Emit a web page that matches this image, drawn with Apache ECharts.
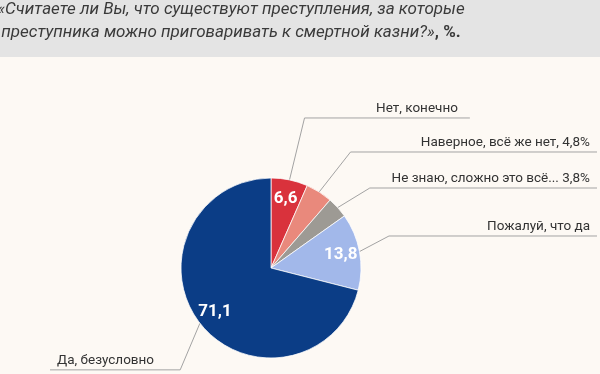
<!DOCTYPE html>
<html><head><meta charset="utf-8">
<script src="https://cdn.jsdelivr.net/npm/echarts@6/dist/echarts.min.js"></script>
<style>html,body{margin:0;padding:0;background:#fdf9f4}#c{width:600px;height:374px}</style>
</head><body><div id="c"></div>
<script>
// ---- data ----
const categories = ['Нет, конечно', 'Наверное, всё же нет', 'Не знаю, сложно это всё...', 'Пожалуй, что да', 'Да, безусловно'];
const values = [6.6, 4.8, 3.8, 13.8, 71.1];
const labelTemplates = ['Нет, конечно', 'Наверное, всё же нет, {v}%', 'Не знаю, сложно это всё... {v}%', 'Пожалуй, что да', 'Да, безусловно'];
const valueInside = [true, false, false, true, true];
const titleLines = ['«Считаете ли Вы, что существуют преступления, за которые', 'преступника можно приговаривать к смертной казни?»'];
const titleUnit = ', %.';

// ---- styles ----
const colors = ['#d9323c', '#e9897c', '#9d9a94', '#a2b8ea', '#0b3d86'];
const lineLen = [73, 58.6, 43.3, 30, 25];
const lineLen2 = [66.5, 0, 0, 0, 0];
const alignMode = ['none', 'edge', 'edge', 'edge', 'edge'];
const edgeDist = [3, 3, 3, 3, 50];
const labelPad = [[0, 12, 3, 0], [0, 7, 3, 0], [0, 7, 3, 0], [0, 7, 3, 0], [0, 0, 3, 7]];
const labelShift = [0, 0, 0, -19.6, 21.8];
const CENTER = [271, 268];
const R = 90;

const fmt = v => v.toFixed(1).replace('.', ',');

const outerData = categories.map((name, i) => ({
  name: name,
  value: values[i],
  itemStyle: { color: colors[i] },
  label: {
    formatter: labelTemplates[i].replace('{v}', fmt(values[i])),
    alignTo: alignMode[i],
    edgeDistance: edgeDist[i],
    padding: labelPad[i]
  },
  labelLine: { length: lineLen[i], length2: lineLen2[i] }
}));

const innerData = categories.map((name, i) => ({
  name: name,
  value: values[i],
  label: { show: valueInside[i], formatter: fmt(values[i]) }
}));

const chart = echarts.init(document.getElementById('c'), null, { renderer: 'canvas' });
chart.setOption({
  backgroundColor: '#fdf9f4',
  animation: false,
  graphic: [
    { type: 'rect', z: 0, shape: { x: 0, y: 0, width: 600, height: 57 }, style: { fill: '#e4e4e4' } },
    {
      type: 'text', z: 1, x: 231, y: -2,
      style: {
        text: titleLines[0] + '\n' + titleLines[1] + '{b|' + titleUnit + '}',
        align: 'center', verticalAlign: 'top',
        fill: '#3a3a3a', fontSize: 17, lineHeight: 23,
        fontStyle: 'italic', fontFamily: 'Roboto',
        rich: { b: { fontStyle: 'normal', fontWeight: 'bold', fontSize: 17, lineHeight: 23, fill: '#3a3a3a', fontFamily: 'Roboto' } }
      }
    }
  ],
  series: [
    {
      type: 'pie',
      center: CENTER,
      radius: [0, R],
      startAngle: 90,
      clockwise: true,
      silent: true,
      avoidLabelOverlap: true,
      data: outerData,
      itemStyle: { borderColor: 'rgba(255,255,255,0.75)', borderWidth: 1 },
      label: {
        show: true, position: 'outside',
        color: '#333333', fontSize: 13.5, fontFamily: 'Roboto', lineHeight: 16,
        distanceToLabelLine: 5
      },
      labelLine: { show: true, lineStyle: { color: '#a3a3a3', width: 1 } },
      labelLayout: function (p) {
        const pts = p.labelLinePoints;
        if (!pts) return {};
        const i = p.dataIndex;
        const shift = labelShift[i] || 0;
        const r = p.labelRect;
        const bottom = r.y + r.height + shift;
        const isLeft = pts[2][0] < pts[0][0];
        const endX = isLeft ? r.x : r.x + r.width;
        pts[1][1] = bottom;
        pts[2] = [endX, bottom];
        const out = { labelLinePoints: pts };
        if (shift) out.y = r.y + r.height / 2 + shift;
        return out;
      }
    },
    {
      type: 'pie',
      center: CENTER,
      radius: [46, R],
      startAngle: 90,
      clockwise: true,
      silent: true,
      z: 3,
      data: innerData,
      itemStyle: { color: 'rgba(0,0,0,0)', borderWidth: 0 },
      label: {
        position: 'inside', color: '#ffffff', fontSize: 17, fontWeight: 'bold',
        fontFamily: 'Roboto'
      },
      labelLine: { show: false }
    }
  ]
});
</script>
</body></html>
